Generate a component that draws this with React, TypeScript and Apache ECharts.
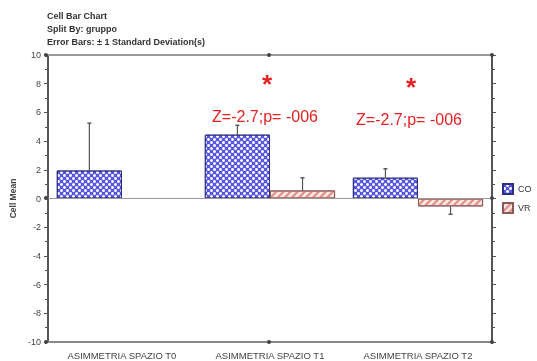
import React, { useEffect, useRef } from "react";
import * as echarts from "echarts";

const categories = ["ASIMMETRIA SPAZIO T0", "ASIMMETRIA SPAZIO T1", "ASIMMETRIA SPAZIO T2"];
const seriesNames = ["CO", "VR"];
const coMean = [1.95, 4.45, 1.45];
const coSd = [3.3, 0.65, 0.62];
const vrMean: (number | null)[] = [null, 0.56, -0.55];
const vrSd = [0, 0.88, 0.55];
const yTicks = { min: -10, max: 10, interval: 2 };
const titleLines = ["Cell Bar Chart", "Split By: gruppo", "Error Bars: \u00b1 1 Standard Deviation(s)"];
const annotationText = "Z=-2.7;p= -006";

export default function App() {
  const ref = useRef<HTMLDivElement>(null);
  useEffect(() => {
    if (!ref.current) return;
    const chart = echarts.init(ref.current, null, { renderer: "svg" });
    const errData: number[][] = [];
    categories.forEach((_, i) => {
      errData.push([i, coMean[i], coSd[i], 0]);
      if (vrMean[i] !== null) errData.push([i, vrMean[i] as number, vrSd[i], 1]);
    });
    const font = "Liberation Sans, Arial, sans-serif";
    const axisCommon = {
      type: "value" as const,
      min: yTicks.min,
      max: yTicks.max,
      interval: yTicks.interval,
      splitLine: { show: false },
      axisLine: { show: true, onZero: false, lineStyle: { color: "#555", width: 2 } },
      axisTick: { show: true, length: 4, lineStyle: { color: "#555" } },
      minorTick: { show: true, splitNumber: 2, length: 3, lineStyle: { color: "#555" } },
    };
    const dots = [
      [46, 55], [492, 55], [46, 342], [492, 342], [46, 198], [492, 198], [269, 342], [269, 55],
    ];
    chart.setOption({
      animation: false,
      textStyle: { fontFamily: font },
      grid: { left: 46, right: 45, top: 55, bottom: 19, containLabel: false },
      legend: {
        data: seriesNames,
        orient: "vertical",
        left: 497,
        top: 178,
        itemWidth: 10,
        itemHeight: 10,
        itemGap: 7,
        icon: "rect",
        textStyle: { fontSize: 9, color: "#333" },
      },
      xAxis: [
        {
          type: "category",
          data: categories,
          position: "bottom",
          axisLine: { onZero: false, lineStyle: { color: "#888", width: 2 } },
          axisTick: { alignWithLabel: true, length: 3, lineStyle: { color: "#555" } },
          axisLabel: { fontSize: 9.5, color: "#444", margin: 8 },
        },
        {
          type: "category",
          data: categories,
          position: "top",
          axisLine: { onZero: false, lineStyle: { color: "#999", width: 2 } },
          axisTick: { alignWithLabel: true, length: 3, lineStyle: { color: "#555" } },
          axisLabel: { show: false },
        },
      ],
      yAxis: [
        {
          ...axisCommon,
          position: "left",
          axisLabel: { fontSize: 9, color: "#444", margin: 7 },
          name: "Cell Mean",
          nameLocation: "middle",
          nameGap: 30,
          nameTextStyle: { fontSize: 8.5, fontWeight: "bold", color: "#444" },
        },
        {
          ...axisCommon,
          position: "right",
          axisLabel: { show: false },
        },
      ],
      series: [
        {
          name: seriesNames[0],
          type: "bar",
          data: coMean,
          barWidth: "44%",
          barGap: "0%",
          itemStyle: {
            color: "#5656e6",
            borderColor: "#2e2e80",
            borderWidth: 1,
            decal: {
              symbol: "circle",
              symbolSize: 1,
              color: "#ffffff",
              dashArrayX: [[2.5, 2.5], [0, 2.5, 2.5, 0]],
              dashArrayY: [2.5, 0],
            },
          },
          markLine: {
            silent: true,
            symbol: "none",
            label: { show: false },
            lineStyle: { color: "#999", type: "solid", width: 1 },
            data: [{ yAxis: 0 }],
          },
        },
        {
          name: seriesNames[1],
          type: "bar",
          data: vrMean,
          barWidth: "44%",
          barGap: "0%",
          itemStyle: {
            color: "#fbe6e2",
            borderColor: "#8a5a5a",
            borderWidth: 1,
            decal: {
              symbol: "rect",
              symbolSize: 1,
              color: "#e58a80",
              dashArrayX: [1, 0],
              dashArrayY: [2, 3],
              rotation: -Math.PI / 4,
            },
          },
        },
        {
          type: "custom",
          data: errData,
          encode: { x: 0, y: 1 },
          z: 5,
          renderItem: (params: any, api: any) => {
            const i = api.value(0);
            const m = api.value(1);
            const sd = api.value(2);
            const g = api.value(3);
            if (!sd) return null;
            const band = api.size([1, 0])[0];
            const off = (g === 0 ? -1 : 1) * band * 0.22;
            const p0 = api.coord([i, m]);
            const end = m >= 0 ? m + sd : m - sd;
            const p1 = api.coord([i, end]);
            const x = p0[0] + off;
            return {
              type: "group",
              children: [
                { type: "line", shape: { x1: x, y1: p0[1], x2: x, y2: p1[1] }, style: { stroke: "#555", lineWidth: 1.2 } },
                { type: "line", shape: { x1: x - 2, y1: p1[1], x2: x + 2, y2: p1[1] }, style: { stroke: "#555", lineWidth: 1.5 } },
              ],
            };
          },
        },
      ],
      graphic: [
        ...titleLines.map((t, k) => ({
          type: "text",
          left: 47,
          top: 11 + k * 13,
          style: { text: t, fontSize: 9, fontWeight: "bold", fill: "#333", fontFamily: font },
        })),
        { type: "text", x: 267, y: 84, style: { text: "*", fontSize: 26, fontWeight: "bold", fill: "#e52222", align: "center", verticalAlign: "middle", fontFamily: font } },
        { type: "text", x: 265, y: 116, style: { text: annotationText, fontSize: 16, fill: "#e52222", align: "center", verticalAlign: "middle", fontFamily: font } },
        { type: "text", x: 411, y: 87, style: { text: "*", fontSize: 26, fontWeight: "bold", fill: "#e52222", align: "center", verticalAlign: "middle", fontFamily: font } },
        { type: "text", x: 409, y: 119, style: { text: annotationText, fontSize: 16, fill: "#e52222", align: "center", verticalAlign: "middle", fontFamily: font } },
        ...dots.map(([cx, cy]) => ({
          type: "circle",
          shape: { cx, cy, r: 2 },
          style: { fill: "#444" },
          z: 10,
        })),
      ],
    });
    return () => chart.dispose();
  }, []);
  return <div ref={ref} style={{ position: "fixed", left: 0, top: 0, width: 537, height: 361 }} />;
}
